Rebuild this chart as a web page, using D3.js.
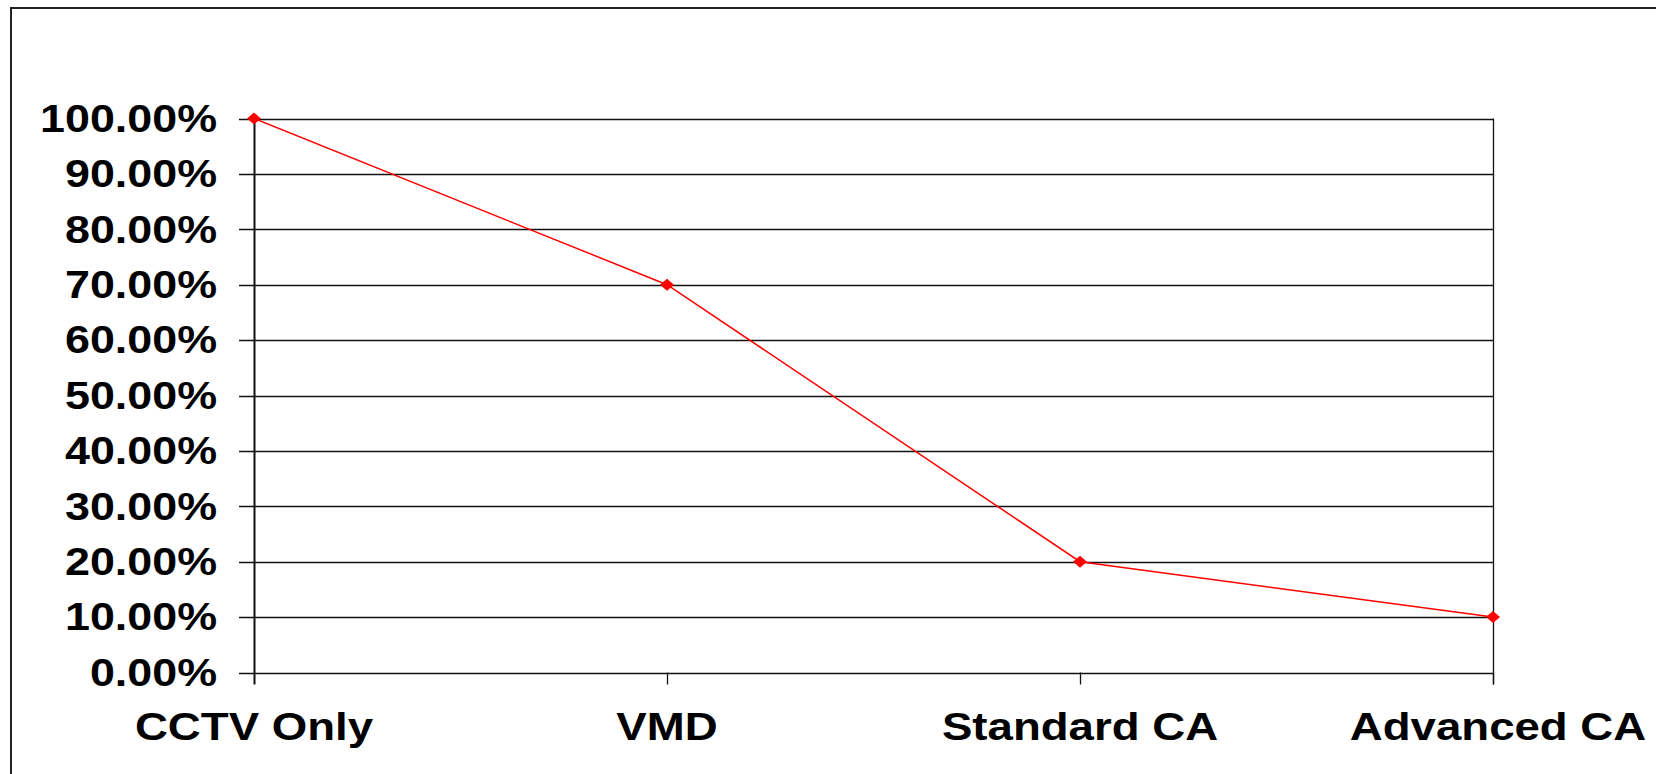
<!DOCTYPE html>
<html><head><meta charset="utf-8">
<script src="https://cdn.jsdelivr.net/npm/d3@7"></script>
<style>
html,body{margin:0;padding:0;background:#fff;overflow:hidden}
svg{display:block}
text{font-family:"Liberation Sans",Arial,sans-serif;font-weight:bold;fill:#000}
</style></head>
<body>
<script>
const categories = ["CCTV Only", "VMD", "Standard CA", "Advanced CA"];
const values = [1.00, 0.70, 0.20, 0.10];
const yTicks = [0, 0.1, 0.2, 0.3, 0.4, 0.5, 0.6, 0.7, 0.8, 0.9, 1.0];

const W = 1656, H = 774;
const L = 254, R = 1493, T = 118.5, B = 672.5;
const FS = 38, SX = 1.18, SXX = 1.2;

const svg = d3.select("body").append("svg").attr("width", W).attr("height", H);

// outer frame (only top and left edges visible)
svg.append("rect").attr("x", 11).attr("y", 8).attr("width", W + 20).attr("height", H + 20)
  .attr("fill", "none").attr("stroke", "#222").attr("stroke-width", 2);

const x = d3.scalePoint().domain(categories).range([L, R]).padding(0);
const y = d3.scaleLinear().domain([0, 1]).range([B, T]);

// gridlines
svg.append("g").selectAll("line").data(yTicks).join("line")
  .attr("x1", L - 15).attr("x2", R)
  .attr("y1", d => Math.round(y(d)) + 0.5).attr("y2", d => Math.round(y(d)) + 0.5)
  .attr("stroke", "#111").attr("stroke-width", 1.3);

// right border of plot
svg.append("line").attr("x1", R + 0.5).attr("x2", R + 0.5).attr("y1", T).attr("y2", B + 12)
  .attr("stroke", "#111").attr("stroke-width", 1.3);

// x ticks
svg.append("g").selectAll("line").data(categories).join("line")
  .attr("x1", d => Math.round(x(d)) + 0.5).attr("x2", d => Math.round(x(d)) + 0.5)
  .attr("y1", d => d === categories[0] ? T : B).attr("y2", B + 12)
  .attr("stroke", "#111").attr("stroke-width", d => d === categories[0] ? 2 : 1.3);

// y labels
const fmt = d3.format(".2%");
svg.append("g").selectAll("text").data(yTicks).join("text")
  .attr("transform", d => `translate(${L - 37},${y(d)}) scale(${SX},1)`)
  .attr("dy", "0.35em").attr("text-anchor", "end").attr("font-size", FS)
  .text(d => fmt(d));

// x labels
svg.append("g").selectAll("text").data(categories).join("text")
  .attr("transform", (d, i) => `translate(${x(d) + (i === categories.length - 1 ? 5 : 0)},740) scale(${SXX},1)`)
  .attr("text-anchor", "middle").attr("font-size", FS)
  .text(d => d);

// line
const pts = categories.map((c, i) => [x(c), y(values[i])]);
svg.append("path").attr("d", d3.line()(pts))
  .attr("fill", "none").attr("stroke", "#ff0000").attr("stroke-width", 1.5);

// diamond markers
svg.append("g").selectAll("path").data(pts).join("path")
  .attr("transform", d => `translate(${d[0]},${d[1]})`)
  .attr("d", "M0,-6L7,0L0,6L-7,0Z")
  .attr("fill", "#ff0000");
</script>
</body></html>
